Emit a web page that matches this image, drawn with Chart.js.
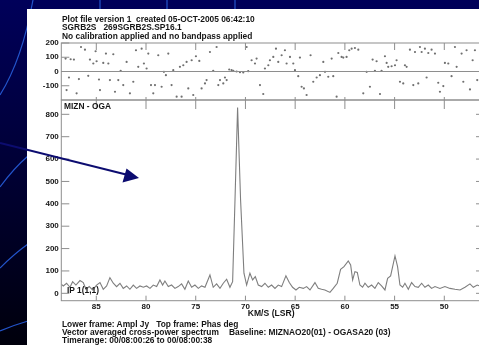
<!DOCTYPE html>
<html>
<head>
<meta charset="utf-8">
<script src="https://cdn.jsdelivr.net/npm/chart.js@4/dist/chart.umd.min.js"></script>
<style>
  html, body { margin: 0; padding: 0; overflow: hidden; }
  body {
    width: 479px; height: 345px; position: relative;
    background: linear-gradient(#00005a, #000034 50%, #00000c);
    font-family: "Liberation Sans", Arial, sans-serif;
  }
  svg { position: absolute; left: 0; top: 0; }
  #painel { position: absolute; left: 27px; top: 9px; width: 452px; height: 336px; background: #fff; }
  canvas { position: absolute; left: 0; top: 0; }
  .txt { position: absolute; font-weight: bold; font-size: 8.4px; line-height: 9px; color: #151515; white-space: pre; }
</style>
</head>
<body>
<svg width="479" height="345">
  <g fill="none" stroke="#2354cc" stroke-width="1.2">
    <path d="M0,95 Q22,60 33,0"/>
    <path d="M0,187 Q14,168 28,156"/>
    <path d="M0,268 Q14,254 28,244"/>
    <path d="M0,331 Q14,325 28,321"/>
    <path d="M100,0 L100,9"/>
    <path d="M167,0 L167,9"/>
    <path d="M235,0 L235,9"/>
  </g>
</svg>
<div id="painel"></div>
<canvas id="graficoFase" width="490" height="110"></canvas>
<canvas id="graficoAmp" width="490" height="345"></canvas>

<div class="txt" style="left:62px; top:14.5px">Plot file version 1  created 05-OCT-2005 06:42:10</div>
<div class="txt" style="left:62px; top:23px">SGRB2S   269SGRB2S.SP16.1</div>
<div class="txt" style="left:62px; top:31.5px">No calibration applied and no bandpass applied</div>
<div class="txt" style="left:64px; top:102px">MIZN - OGA</div>
<div class="txt" style="left:67px; top:285.5px">IP 1(1,1)</div>
<div class="txt" style="left:62px; top:319.5px">Lower frame: Ampl Jy   Top frame: Phas deg</div>
<div class="txt" style="left:62px; top:328px">Vector averaged cross-power spectrum</div>
<div class="txt" style="left:229px; top:328px">Baseline: MIZNAO20(01) - OGASA20 (03)</div>
<div class="txt" style="left:62px; top:336px">Timerange: 00/08:00:26 to 00/08:00:38</div>

<svg width="479" height="345">
  <line x1="0" y1="143" x2="128" y2="175" stroke="#0c0c70" stroke-width="2"/>
  <polygon points="139,178 126.5,168.5 122.5,182.5" fill="#0c0c70"/>
</svg>

<script>
// eixo de velocidade (km/s LSR), invertido como no POSSM
const limitesVel = [46.31, 88.52];
const ticksVel = [85, 80, 75, 70, 65, 60, 55, 50];
const ticksFase = [200, 100, 0, -100];
const ticksAmp = [0, 100, 200, 300, 400, 500, 600, 700, 800];

// quadro de cima: fase (graus)
const faseVel = [
  88.09, 87.58, 87.25, 87.99, 87.75, 86.98, 86.75, 86.54, 86.14, 85.81,
  85.64, 85.30, 85.07, 84.97, 84.73, 84.63, 84.30, 84.03, 83.79, 83.63,
  83.29, 83.12, 82.79, 82.55, 82.29, 81.95, 81.62, 81.28, 81.01, 80.78,
  80.44, 80.21, 79.94, 79.77, 79.50, 79.27, 79.10, 78.77, 78.43, 78.20,
  78.00, 77.76, 77.43, 77.26, 76.92, 76.59, 76.42, 76.25, 75.92, 75.75,
  75.41, 75.25, 74.98, 74.64, 74.41, 74.07, 73.91, 73.57, 73.24, 72.90,
  72.73, 72.56, 72.23, 72.06, 71.89, 71.63, 71.39, 71.22, 70.89, 70.55,
  70.22, 69.88, 69.72, 69.38, 69.04, 68.88, 68.54, 68.21, 68.04, 67.70,
  67.54, 67.20, 66.93, 66.70, 66.36, 66.03, 65.86, 65.52, 65.19, 65.02,
  64.69, 64.52, 64.35, 64.12, 63.85, 63.45, 63.18, 62.84, 62.51, 62.17,
  62.00, 61.67, 61.33, 61.17, 60.83, 60.66, 60.33, 60.16, 59.83, 59.56,
  59.32, 58.99, 58.65, 58.15, 57.81, 57.48, 57.21, 56.98, 56.81, 56.47,
  56.31, 55.97, 55.80, 55.64, 55.30, 54.96, 54.80, 54.46, 54.13, 53.96,
  53.79, 53.46, 53.12, 52.95, 52.62, 52.45, 52.28, 51.95, 51.78, 51.61,
  51.28, 50.94, 50.61, 50.44, 50.10, 49.94, 49.60, 49.27, 48.93, 48.76,
  48.26, 48.09, 47.76, 47.42, 47.15, 46.92, 46.69
];
const faseGraus = [
  91, 86, 84, -130, -42, -153, -53, 172, 153, -30,
  84, 56, 142, 72, -56, -130, 60, 126, 56, -60,
  121, -142, -60, 5, -95, 67, -153, -72, 149, 33,
  160, 56, 21, 126, -95, -153, -95, 114, -107, -2,
  -26, 126, -95, 9, -177, 33, -177, 44, 67, -119,
  79, -165, 107, 74, -119, -84, -60, 137, 5, 172,
  -95, -60, -84, -42, -60, 14, 9, 5, 0, -5,
  -7, 172, 2, 79, 56, 91, -95, -158, 21, 44,
  79, 102, 160, 67, 114, 149, 56, 102, 56, 9,
  -33, 98, -107, -119, -165, 114, -72, -42, -26, 67,
  -2, -37, 91, -33, -177, 130, 102, 98, 102, 149,
  160, 165, 153, -153, -2, -107, 84, 5, 72, -158,
  5, 107, 60, 33, 37, 44, 79, -72, -84, 44,
  33, 153, -95, 137, -84, 172, 137, 160, -42, 130,
  153, 126, -79, -142, -102, 60, 56, -33, 172, 33,
  126, -72, 149, -126, 79, 149, -60
];

// quadro de baixo: amplitude (Jy)
const ampVel = [
  88.50, 88.32, 87.99, 87.65, 87.38, 87.05, 86.64, 86.31, 86.04, 85.71,
  85.37, 84.97, 84.63, 84.30, 83.96, 83.63, 83.29, 82.96, 82.62, 82.29,
  81.95, 81.62, 81.28, 80.95, 80.61, 80.27, 79.94, 79.60, 79.27, 78.93,
  78.60, 78.33, 78.10, 77.76, 77.43, 77.09, 76.76, 76.42, 76.09, 75.75,
  75.41, 75.08, 74.74, 74.41, 74.07, 73.57, 73.24, 72.90, 72.56, 72.23,
  71.89, 71.56, 71.29, 71.05, 70.79, 70.49, 70.15, 69.88, 69.55, 69.28,
  69.01, 68.71, 68.37, 68.04, 67.70, 67.37, 67.03, 66.70, 66.36, 65.93,
  65.59, 65.26, 64.92, 64.59, 64.18, 63.85, 63.51, 63.01, 62.68, 62.34,
  62.01, 61.50, 61.17, 60.77, 60.43, 60.09, 59.66, 59.42, 59.22, 58.99,
  58.75, 58.49, 58.22, 57.98, 57.65, 57.31, 56.98, 56.64, 56.31, 55.97,
  55.70, 55.40, 54.96, 54.70, 54.46, 54.19, 53.96, 53.62, 53.29, 52.95,
  52.62, 52.28, 51.95, 51.61, 51.28, 50.94, 50.44, 49.94, 49.43, 48.93,
  48.42, 47.92, 47.42, 47.08, 46.69, 46.31
];
const ampJy = [
  40, 33, 45, 27, 52, 37, 57, 48, 18, 30,
  15, 37, 48, 18, 33, 70, 45, 30, 45, 22,
  33, 18, 37, 22, 33, 27, 33, 22, 37, 30,
  60, 37, 55, 30, 37, 22, 30, 42, 18, 55,
  27, 37, 22, 33, 27, 82, 27, 42, 22, 45,
  63, 27, 52, 418, 830, 418, 90, 37, 90, 60,
  75, 37, 30, 45, 27, 37, 22, 37, 30, 78,
  48, 27, 15, 27, 22, 30, 15, 48, 22, 18,
  15, 4, 22, 45, 107, 119, 145, 127, 60, 97,
  93, 37, 27, 45, 27, 37, 22, 48, 33, 15,
  67, 78, 167, 119, 37, 27, 45, 18, 48, 30,
  27, 45, 27, 37, 22, 30, 22, 30, 22, 18,
  15, 27, 42, 27, 37, 30
];

const corQuadro = "#8e8e8e";
const fonteTicks = { family: "Liberation Sans", size: 8, weight: "bold" };

// moldura e marcas internas, no estilo AIPS
const moldura = {
  id: "moldura",
  afterDraw(chart, args, op) {
    const { ctx, chartArea: a, scales: { x, y } } = chart;
    ctx.save();
    ctx.strokeStyle = corQuadro;
    ctx.lineWidth = 1;
    ctx.strokeRect(a.left, a.top, a.right - a.left, a.bottom - a.top);
    ctx.beginPath();
    x.ticks.forEach(t => {
      const px = x.getPixelForValue(t.value);
      ctx.moveTo(px, a.top); ctx.lineTo(px, a.top + op.xCima);
      ctx.moveTo(px, a.bottom); ctx.lineTo(px, a.bottom - op.xBaixo);
    });
    y.ticks.forEach(t => {
      const py = y.getPixelForValue(t.value);
      ctx.moveTo(a.left, py); ctx.lineTo(a.left + op.yEsq, py);
      if (op.yDir) { ctx.moveTo(a.right, py); ctx.lineTo(a.right - op.yDir, py); }
    });
    if (op.linhaZero) {
      const p0 = y.getPixelForValue(0);
      ctx.moveTo(a.left, p0); ctx.lineTo(a.right, p0);
    }
    ctx.stroke();
    ctx.restore();
  }
};

function eixoX(mostrar) {
  return {
    type: "linear", reverse: true, min: limitesVel[0], max: limitesVel[1],
    display: mostrar,
    grid: { display: false, drawTicks: false },
    border: { display: false },
    afterBuildTicks: s => { s.ticks = ticksVel.map(v => ({ value: v })); },
    afterFit: s => { s.height = mostrar ? 44.3 : 0; },
    ticks: { color: "#151515", font: fonteTicks, padding: 1.5, maxRotation: 0, autoSkip: false },
    title: {
      display: mostrar, text: "KM/S (LSR)", color: "#151515",
      font: { family: "Liberation Sans", size: 8.6, weight: "bold" },
      padding: { top: 0, bottom: 26 }
    }
  };
}

function eixoY(min, max, lista) {
  return {
    min: min, max: max,
    grid: { display: false, drawTicks: false },
    border: { display: false },
    afterBuildTicks: s => { s.ticks = lista.map(v => ({ value: v })); },
    afterFit: s => { s.width = 61.3; },
    ticks: { color: "#151515", font: fonteTicks, padding: 2.5 }
  };
}

const comuns = {
  responsive: false,
  animation: false,
  plugins: { legend: { display: false }, tooltip: { enabled: false } }
};

new Chart(document.getElementById("graficoFase"), {
  type: "scatter",
  data: {
    datasets: [{
      data: faseVel.map((v, i) => ({ x: v, y: faseGraus[i] })),
      pointRadius: 1.1, pointBackgroundColor: "#707070", pointBorderWidth: 0
    }]
  },
  options: {
    ...comuns,
    layout: { padding: { top: 43, right: 9, bottom: 10, left: 0 } },
    scales: { x: eixoX(false), y: eixoY(-200, 200, ticksFase) },
    plugins: { ...comuns.plugins, moldura: { xCima: 7, xBaixo: 3, yEsq: 8, yDir: 0, linhaZero: true } }
  },
  plugins: [moldura]
});

new Chart(document.getElementById("graficoAmp"), {
  type: "line",
  data: {
    datasets: [{
      data: ampVel.map((v, i) => ({ x: v, y: ampJy[i] })),
      borderColor: "#7e7e7e", borderWidth: 1.1, pointRadius: 0, tension: 0
    }]
  },
  options: {
    ...comuns,
    layout: { padding: { top: 100, right: 9, bottom: 0, left: 0 } },
    scales: { x: eixoX(true), y: eixoY(-33, 864, ticksAmp) },
    plugins: { ...comuns.plugins, moldura: { xCima: 9, xBaixo: 5, yEsq: 8, yDir: 5, linhaZero: false } }
  },
  plugins: [moldura]
});
</script>
</body>
</html>
